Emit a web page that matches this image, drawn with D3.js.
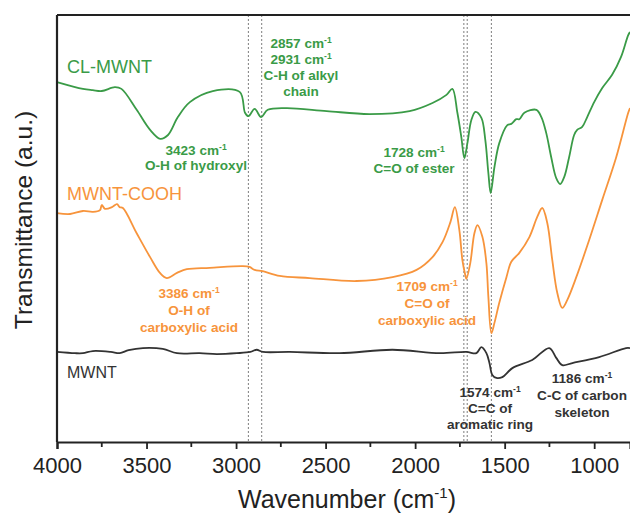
<!DOCTYPE html>
<html><head><meta charset="utf-8">
<script src="https://cdn.jsdelivr.net/npm/d3@7"></script>
<style>body{margin:0;background:#fff}svg{display:block;font-family:"Liberation Sans",Arial,sans-serif}</style>
</head><body><div id="chart"></div>
<script>
// Wavenumber (cm-1) and transmittance (a.u.)
const clWn  = [4000,3855,3800,3750,3677,3640,3555,3480,3423,3380,3325,3258,3130,2980,2950,2931,2896,2860,2823,2718,2494,2254,2031,1903,1825,1792,1764,1742,1725,1708,1686,1663,1630,1608,1591,1578,1557,1530,1485,1463,1435,1418,1390,1323,1295,1268,1240,1212,1190,1167,1140,1112,1095,1067,1039,1000,955,900,850,810,800];
const clT   = [84.3,82.7,82.4,82.2,83.1,82.7,77.8,73.1,71.0,71.9,76.1,79.6,82.2,82.0,77.1,76.3,78.0,76.1,77.8,78.2,77.5,76.8,77.5,79.4,81.3,82.7,77.1,71.4,66.5,70.0,75.4,77.3,75.9,70.7,63.0,58.3,64.4,70.0,74.2,74.5,75.6,75.6,77.1,77.8,76.1,72.4,66.7,61.8,60.4,62.1,66.7,71.9,73.1,73.8,76.1,79.6,82.9,86.0,90.2,95.3,96.0];
const coohWn = [4000,3927,3855,3800,3760,3750,3732,3693,3665,3650,3632,3555,3480,3425,3387,3330,3275,3147,2963,2925,2896,2851,2756,2589,2327,2126,1992,1903,1847,1803,1778,1753,1736,1720,1714,1692,1669,1652,1624,1602,1591,1574,1557,1530,1490,1463,1418,1362,1318,1290,1262,1234,1206,1178,1150,1100,1028,955,877,810,800];
const coohT  = [53.6,53.4,54.1,53.9,54.3,55.5,54.6,55.0,55.7,55.0,54.8,48.9,43.3,39.6,38.4,39.6,40.5,40.8,41.2,41.0,40.3,40.0,38.9,38.4,37.7,38.6,40.3,43.3,46.8,51.5,55.0,49.6,42.6,39.1,38.2,41.9,48.9,50.8,48.0,41.9,34.0,25.5,27.9,32.6,38.6,42.2,44.3,48.0,52.7,54.8,51.3,42.6,34.9,31.4,33.3,38.6,47.3,56.7,66.7,77.1,78.2];
const mwWn = [4000,3900,3855,3800,3700,3650,3600,3520,3409,3330,3203,3108,2996,2920,2885,2850,2700,2422,2126,1862,1714,1658,1630,1602,1585,1569,1546,1513,1457,1346,1251,1212,1178,1122,972,822,800];
const mwT  = [21.1,20.8,20.8,21.3,21.1,20.8,21.5,22.0,21.8,20.8,20.8,20.6,20.8,21.1,21.6,21.1,21.1,20.8,21.6,20.8,21.1,20.8,22.2,20.8,18.5,15.7,15.0,15.2,17.3,19.2,22.0,19.7,18.0,18.5,19.9,22.0,22.0];
const markerWn = [2931,2857,1728,1709,1574];
const xTicks = [4000,3500,3000,2500,2000,1500,1000];
const seriesNames = ["CL-MWNT","MWNT-COOH","MWNT"];
const colors = ["#3a9b47","#f7943c","#333333"];

const W=630,H=514, m={l:57,r:0,t:15,b:72};
const svg=d3.select("#chart").append("svg").attr("width",W).attr("height",H);
const x=d3.scaleLinear().domain([4000,800]).range([m.l,W-m.r]);
const y=d3.scaleLinear().domain([0,100]).range([H-m.b,m.t]);

// marker lines
svg.selectAll(".mk").data(markerWn).enter().append("line")
  .attr("x1",d=>x(d)).attr("x2",d=>x(d)).attr("y1",m.t).attr("y2",H-m.b)
  .attr("stroke","#8a8a8a").attr("stroke-width",1.1).attr("stroke-dasharray","2,2");

const line=d3.line().x(d=>x(d[0])).y(d=>y(d[1])).curve(d3.curveCatmullRom.alpha(0.5));
[[clWn,clT],[coohWn,coohT],[mwWn,mwT]].forEach((s,i)=>{
  svg.append("path").datum(d3.zip(s[0],s[1])).attr("d",line)
    .attr("fill","none").attr("stroke",colors[i]).attr("stroke-width",1.8);
});

// frame
svg.append("line").attr("x1",m.l).attr("x2",W).attr("y1",m.t).attr("y2",m.t).attr("stroke","#222").attr("stroke-width",2.2);
svg.append("line").attr("x1",m.l).attr("x2",m.l).attr("y1",m.t).attr("y2",H-m.b).attr("stroke","#222").attr("stroke-width",2.2);
const ax=svg.append("g").attr("transform",`translate(0,${H-m.b})`)
  .call(d3.axisBottom(x).tickValues(xTicks).tickSize(7).tickPadding(8).tickFormat(d3.format("d")));
ax.select(".domain").attr("stroke","#222").attr("stroke-width",2.2);
ax.selectAll(".tick line").attr("stroke","#222").attr("stroke-width",1.8);
ax.selectAll("text").attr("font-size",22).attr("fill","#222").attr("font-family","Liberation Sans, Arial, sans-serif");
const minor=d3.range(3750,800,-500);
svg.append("g").selectAll("line").data(minor).enter().append("line")
  .attr("x1",d=>x(d)).attr("x2",d=>x(d)).attr("y1",H-m.b).attr("y2",H-m.b+5)
  .attr("stroke","#222").attr("stroke-width",1.8);

// axis titles
const xt=svg.append("text").attr("x",347).attr("y",508).attr("text-anchor","middle").attr("font-size",25).attr("fill","#222");
xt.append("tspan").text("Wavenumber (cm");
xt.append("tspan").text("-1").attr("font-size",15).attr("dy",-10);
xt.append("tspan").text(")").attr("dy",10);
svg.append("text").attr("transform","translate(32,220) rotate(-90)").attr("text-anchor","middle")
  .attr("font-size",24.5).attr("fill","#222").text("Transmittance (a.u.)");

// series labels
[[67,73,18],[67,200,18],[67,378,16]].forEach((p,i)=>{
  svg.append("text").attr("x",p[0]).attr("y",p[1]).attr("font-size",p[2]).attr("fill",colors[i]).text(seriesNames[i]);
});

// annotations
function ann(cx,ys,lines,col){
  lines.forEach((t,i)=>{
    const tx=svg.append("text").attr("x",cx).attr("y",ys[i]).attr("text-anchor","middle")
      .attr("font-size",13.6).attr("font-weight","bold").attr("fill",col);
    const mm=t.match(/^(.*cm)-1$/);
    if(mm){tx.append("tspan").text(mm[1]);tx.append("tspan").text("-1").attr("font-size",8.5).attr("dy",-5.5);}
    else tx.text(t);
  });
}
ann(196,[155,170],["3423 cm-1","O-H of hydroxyl"],colors[0]);
ann(301,[48,64,80,96],["2857 cm-1","2931 cm-1","C-H of alkyl","chain"],colors[0]);
ann(414,[157,173],["1728 cm-1","C=O of ester"],colors[0]);
ann(189,[298,315,332],["3386 cm-1","O-H of","carboxylic acid"],colors[1]);
ann(427,[291,308,325],["1709 cm-1","C=O of","carboxylic acid"],colors[1]);
ann(490,[397,413,429],["1574 cm-1","C=C of","aromatic ring"],colors[2]);
ann(582,[383,400,417],["1186 cm-1","C-C of carbon","skeleton"],colors[2]);
</script></body></html>
